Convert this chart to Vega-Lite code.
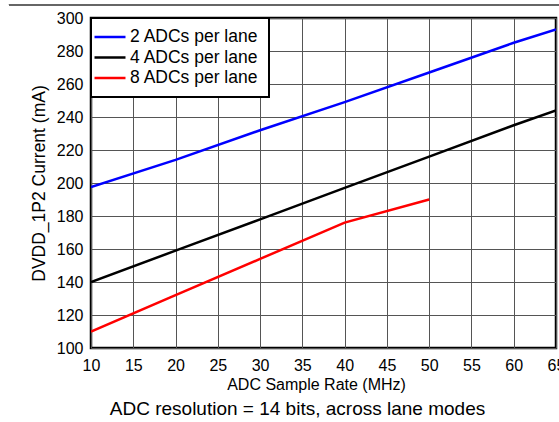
{
  "$schema": "https://vega.github.io/schema/vega-lite/v6.json",
  "width": 465,
  "height": 330,
  "autosize": "none",
  "padding": {"left": 91, "top": 18, "right": 3, "bottom": 74},
  "background": "white",
  "config": {
    "font": "Liberation Sans",
    "view": {"stroke": "black", "strokeWidth": 2.5},
    "legend": {"strokeWidth": 2},
    "axisX": {
      "values": [10, 15, 20, 25, 30, 35, 40, 45, 50, 55, 60, 65],
      "grid": true,
      "gridColor": "#555555",
      "gridWidth": 1,
      "gridOpacity": 1,
      "domain": false,
      "ticks": false,
      "labelPadding": 9,
      "labelFontSize": 16,
      "labelColor": "black",
      "labelFlush": false,
      "labelOverlap": false,
      "titleFontSize": 16,
      "titleFontWeight": "normal",
      "titleColor": "black",
      "titlePadding": 3,
      "titleX": 225
    },
    "axisY": {
      "values": [100, 120, 140, 160, 180, 200, 220, 240, 260, 280, 300],
      "grid": true,
      "gridColor": "#555555",
      "gridWidth": 1,
      "gridOpacity": 1,
      "domain": false,
      "ticks": false,
      "labelPadding": 8,
      "labelFontSize": 16,
      "labelColor": "black",
      "labelFlush": false,
      "labelOverlap": false,
      "titleFontSize": 17.5,
      "titleFontWeight": "normal",
      "titleColor": "black",
      "titlePadding": 8
    }
  },
  "title": {
    "text": "ADC resolution = 14 bits, across lane modes",
    "orient": "bottom",
    "fontSize": 19,
    "fontWeight": "normal",
    "color": "black",
    "offset": 8,
    "dx": -26
  },
  "data": {"values": [
      {"rate": 10, "current": 197.5, "mode": "2 ADCs per lane"},
      {"rate": 20, "current": 214, "mode": "2 ADCs per lane"},
      {"rate": 30, "current": 232, "mode": "2 ADCs per lane"},
      {"rate": 40, "current": 249, "mode": "2 ADCs per lane"},
      {"rate": 50, "current": 267, "mode": "2 ADCs per lane"},
      {"rate": 60, "current": 285, "mode": "2 ADCs per lane"},
      {"rate": 65, "current": 293, "mode": "2 ADCs per lane"},
      {"rate": 10, "current": 140, "mode": "4 ADCs per lane"},
      {"rate": 20, "current": 159, "mode": "4 ADCs per lane"},
      {"rate": 30, "current": 178, "mode": "4 ADCs per lane"},
      {"rate": 40, "current": 197, "mode": "4 ADCs per lane"},
      {"rate": 50, "current": 216, "mode": "4 ADCs per lane"},
      {"rate": 60, "current": 235, "mode": "4 ADCs per lane"},
      {"rate": 65, "current": 244, "mode": "4 ADCs per lane"},
      {"rate": 10, "current": 110, "mode": "8 ADCs per lane"},
      {"rate": 20, "current": 132, "mode": "8 ADCs per lane"},
      {"rate": 30, "current": 154, "mode": "8 ADCs per lane"},
      {"rate": 40, "current": 176, "mode": "8 ADCs per lane"},
      {"rate": 50, "current": 190, "mode": "8 ADCs per lane"}
  ]},
  "layer": [
    {
      "mark": {"type": "line", "strokeWidth": 2.5, "clip": true},
      "encoding": {
        "x": {
          "field": "rate",
          "type": "quantitative",
          "scale": {"domain": [10, 65], "nice": false, "zero": false},
          "axis": {"title": "ADC Sample Rate (MHz)"}
        },
        "y": {
          "field": "current",
          "type": "quantitative",
          "scale": {"domain": [100, 300], "nice": false, "zero": false},
          "axis": {"title": "DVDD_1P2 Current (mA)"}
        },
        "color": {
          "field": "mode",
          "type": "nominal",
          "scale": {
            "domain": ["2 ADCs per lane", "4 ADCs per lane", "8 ADCs per lane"],
            "range": ["#0000ff", "#000000", "#ff0000"]
          },
          "legend": {
            "title": null,
            "orient": "top-left",
            "offset": 0,
            "fillColor": "white",
            "strokeColor": "black",
            "padding": 10,
            "symbolType": "M-2,0H2",
            "symbolSize": 240,
            "symbolStrokeWidth": 2.5,
            "labelFontSize": 17.5,
            "labelColor": "black",
            "labelOffset": 11,
            "rowPadding": 2.5
          }
        }
      }
    },
    {
      "mark": {"type": "rule", "color": "#666666", "strokeWidth": 1.5, "clip": false},
      "encoding": {
        "x": {"datum": 0.3, "type": "quantitative", "axis": {"title": "ADC Sample Rate (MHz)"}},
        "x2": {"datum": 66},
        "y": {"datum": 308, "type": "quantitative", "axis": {"title": "DVDD_1P2 Current (mA)"}}
      }
    }
  ]
}
